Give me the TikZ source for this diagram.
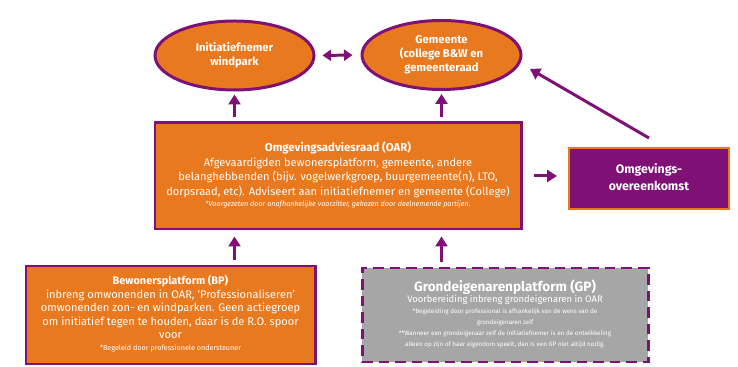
\documentclass[tikz,border=0pt]{standalone}
\usepackage{fontspec}
\setmainfont{Fira Sans}
\definecolor{oarorange}{RGB}{233,121,30}
\definecolor{oarpurple}{RGB}{126,16,118}
\definecolor{gpgray}{RGB}{166,166,166}
\usepackage{tikz}
\usetikzlibrary{shapes,arrows.meta,positioning,calc}

\begin{document}
\begin{tikzpicture}[
    party/.style={ellipse,draw=oarpurple,line width=1.7pt,fill=oarorange,text=white,inner sep=0pt,minimum width=3.18cm,minimum height=1.38cm},
    board/.style={rectangle,draw=oarpurple,line width=1.7pt,fill=oarorange,text=white,inner sep=0pt},
    arr/.style={-{Triangle[length=0.2cm,width=0.24cm]},line width=1.7pt,draw=oarpurple}
]
    \useasboundingbox (0,0) rectangle (14.76,7.34);

    % Initiatiefnemer
    \node[party] (ini) at (4.69,6.23) {\fontsize{6.4}{8}\selectfont
        \begin{tabular}{c}
        \textbf{Initiatiefnemer} \\
        \textbf{windpark}
        \end{tabular}
    };

    % Gemeente
    \node[party] (gem) at (8.83,6.24) {\fontsize{6.4}{8}\selectfont
        \begin{tabular}{c}
        \textbf{Gemeente} \\
        \textbf{(college B\&W en} \\
        \textbf{gemeenteraad}
        \end{tabular}
    };

    % OAR
    \node[board,minimum width=7.32cm,minimum height=2.12cm] (oar) at (6.76,3.82) {\fontsize{6.3}{8.3}\selectfont
        \begin{tabular}{c}
        {\fontsize{6.5}{8}\selectfont\textbf{Omgevingsadviesraad (OAR)}} \\
        Afgevaardigden bewonersplatform, gemeente, andere \\
        belanghebbenden (bijv. vogelwerkgroep, buurgemeente(n), LTO, \\
        dorpsraad, etc). Adviseert aan initiatiefnemer en gemeente (College) \\[-2pt]
        {\fontsize{4.1}{5}\selectfont\itshape *Voorgezeten door onafhankelijke voorzitter, gekozen door deelnemende partijen.}
        \end{tabular}
    };

    % Omgevingsovereenkomst
    \node[rectangle,draw=oarorange,line width=1.1pt,fill=oarpurple,text=white,minimum width=3.2cm,minimum height=1.22cm] (omg) at (12.98,3.77) {\fontsize{7}{9.7}\selectfont
        \begin{tabular}{c}
        \textbf{Omgevings-} \\
        \textbf{overeenkomst}
        \end{tabular}
    };

    % Bewonersplatform
    \node[board,minimum width=5.78cm,minimum height=1.96cm] (bp) at (3.41,1.04) {\fontsize{6.3}{7.7}\selectfont
        \begin{tabular}{c}
        {\fontsize{6.2}{7.7}\selectfont\textbf{Bewonersplatform (BP)}} \\
        inbreng omwonenden in OAR, ‘Professionaliseren’ \\
        omwonenden zon- en windparken. Geen actiegroep \\
        om initiatief tegen te houden, daar is de R.O. spoor \\
        voor \\[-1pt]
        {\fontsize{4.1}{5}\selectfont *Begeleid door professionele ondersteuner}
        \end{tabular}
    };

    % Grondeigenarenplatform
    \node[rectangle,draw=oarpurple,line width=1.7pt,dash pattern=on 6pt off 3.4pt,fill=gpgray,text=white,inner sep=0pt,minimum width=5.72cm,minimum height=1.88cm] (gp) at (10.10,1.04) {\fontsize{5.35}{6.3}\selectfont
        \begin{tabular}{c}
        {\fontsize{7.7}{8}\selectfont\textbf{Grondeigenarenplatform (GP)}} \\
        Voorbereiding inbreng grondeigenaren in OAR \\
        {\fontsize{3.57}{5}\selectfont *Begeleiding door professional is afhankelijk van de wens van de} \\
        {\fontsize{3.57}{5}\selectfont grondeigenaren zelf} \\
        {\fontsize{3.57}{5}\selectfont **Wanneer een grondeigenaar zelf de initiatiefnemer is en de ontwikkeling} \\
        {\fontsize{3.57}{5}\selectfont alleen op zijn of haar eigendom speelt, dan is een GP niet altijd nodig.}
        \end{tabular}
    };

    \coordinate (diagend) at (10.60,5.96);

    % Arrows
    \foreach \i/\j in {oar/ini, oar/gem} {
        \draw[arr,shorten <=0.08cm,shorten >=0.06cm] (\i.north -| \j.south) -- (\j.south);
    }
    \foreach \i/\j in {bp/ini, gp/gem} {
        \draw[arr,shorten <=0.1cm,shorten >=0.12cm] (\i.north -| \j.south) -- (oar.south -| \j.south);
    }
    \draw[{Triangle[length=0.17cm,width=0.22cm]}-{Triangle[length=0.17cm,width=0.22cm]},line width=1.7pt,draw=oarpurple,shorten <=0.14cm,shorten >=0.16cm] (ini.east) -- (gem.west);
    \draw[arr,shorten <=0.22cm,shorten >=0.22cm] (oar.east) -- (oar.east -| omg.west);
    \draw[arr] ([yshift=0.18cm]omg.north) -- (diagend);
\end{tikzpicture}
\end{document}
